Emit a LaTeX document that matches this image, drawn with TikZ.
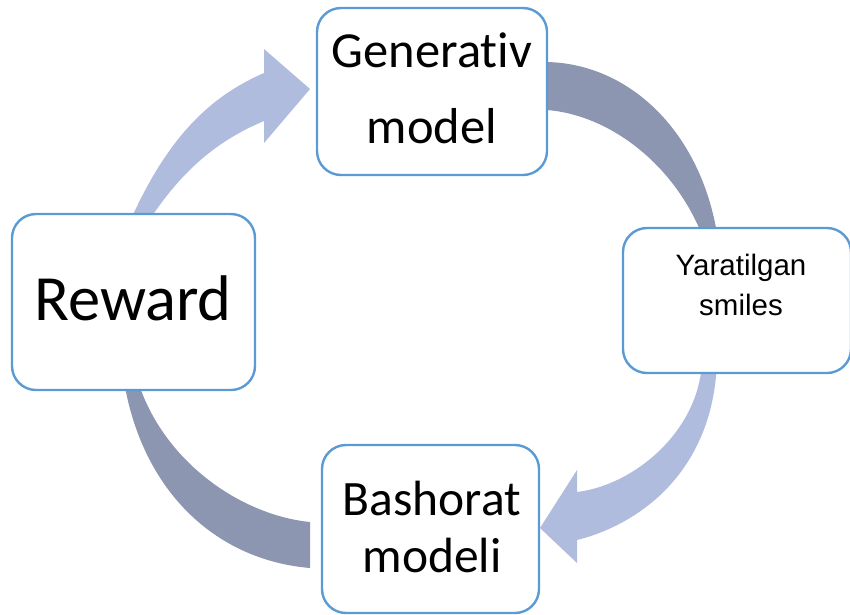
\documentclass[tikz,border=0pt]{standalone}
\usepackage{fontspec}
\newfontfamily\calib[Ligatures=NoCommon]{Carlito}
\newfontfamily\arialf{Liberation Sans}
\definecolor{arrowlight}{RGB}{176,188,222}
\definecolor{arrowdark}{RGB}{141,150,176}
\definecolor{boxline}{RGB}{91,155,213}
\tikzset{
  cyclebox/.style={draw=boxline, line width=2.4pt, fill=white, rounded corners=24pt,
    inner sep=0pt, rectangle},
  lighttail/.style={fill=arrowlight},
  darktail/.style={fill=arrowdark},
  label/.style={anchor=base, inner sep=0pt, text=black},
}
\begin{document}
\begin{tikzpicture}[x=1pt, y=-1pt]
\useasboundingbox (0,0) rectangle (850,614);

% curved block arrows (drawn first, boxes sit on top)
% Reward -> Generativ model
\fill[lighttail] (124,235) .. controls (162,145) and (204,99) .. (264,73)
  -- (264,49) -- (310,89) -- (264,143) -- (264,121)
  .. controls (214,142) and (176,175) .. (140,235) -- cycle;
% Generativ model -> Yaratilgan smiles
\fill[darktail] (547,62) .. controls (632,64) and (703,135) .. (718,240)
  -- (704,240) .. controls (676,165) and (610,115) .. (547,110) -- cycle;
% Yaratilgan smiles -> Bashorat modeli
\fill[lighttail] (717,360) .. controls (714,470) and (641,524) .. (577,540)
  -- (577,563) -- (540,528) -- (577,470) -- (577,492)
  .. controls (635,485) and (700,430) .. (702,360) -- cycle;
% Bashorat modeli -> Reward
\fill[darktail] (123,375) .. controls (140,490) and (215,560) .. (310,568)
  -- (310,522) .. controls (240,515) and (160,460) .. (136,375) -- cycle;

% boxes
\node[cyclebox, minimum width=230pt, minimum height=167pt] (gen) at (432,91.5) {};
\node[cyclebox, minimum width=243pt, minimum height=176pt] (rew) at (133.5,302) {};
\node[cyclebox, minimum width=217pt, minimum height=168pt] (bash) at (430.5,529) {};
\node[cyclebox, minimum width=228pt, minimum height=145pt] (smi) at (737,300.5) {};

% labels
\node[label, font=\calib\fontsize{50.5}{50.5}\selectfont] (genA) at (432,67) {Generativ};
\node[label, font=\calib\fontsize{50.5}{50.5}\selectfont] (genB) at (432,143) {model};
\node[label, font=\calib\fontsize{64.5}{64.5}\selectfont] (rewA) at (133,320) {Reward};
\node[label, font=\calib\fontsize{49.5}{49.5}\selectfont] (bashA) at (432,515) {Bashorat};
\node[label, font=\calib\fontsize{49.5}{49.5}\selectfont] (bashB) at (432,572) {modeli};
\node[label, font=\arialf\fontsize{29.5}{29.5}\selectfont] (smiA) at (741,275) {Yaratilgan};
\node[label, font=\arialf\fontsize{29.5}{29.5}\selectfont] (smiB) at (741,315) {smiles};
\end{tikzpicture}
\end{document}
